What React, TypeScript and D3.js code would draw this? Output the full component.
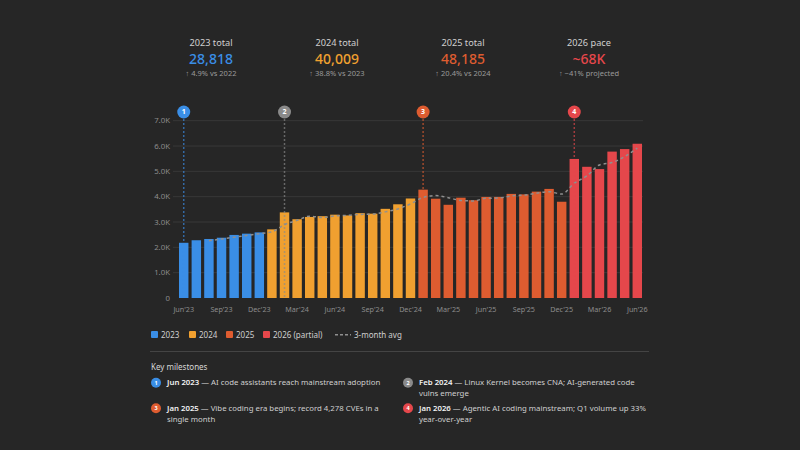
import React from "react";
import * as d3 from "d3";

// Monthly CVE counts, Jun 2023 – Jun 2026
const months = [
  "Jun'23", "Jul'23", "Aug'23", "Sep'23", "Oct'23", "Nov'23", "Dec'23",
  "Jan'24", "Feb'24", "Mar'24", "Apr'24", "May'24", "Jun'24", "Jul'24", "Aug'24", "Sep'24", "Oct'24", "Nov'24", "Dec'24",
  "Jan'25", "Feb'25", "Mar'25", "Apr'25", "May'25", "Jun'25", "Jul'25", "Aug'25", "Sep'25", "Oct'25", "Nov'25", "Dec'25",
  "Jan'26", "Feb'26", "Mar'26", "Apr'26", "May'26", "Jun'26",
];
const cves2023 = [2180, 2280, 2330, 2380, 2490, 2540, 2590];
const cves2024 = [2710, 3380, 3110, 3200, 3230, 3290, 3260, 3350, 3330, 3520, 3700, 3929];
const cves2025 = [4278, 3920, 3680, 3960, 3860, 3990, 3990, 4110, 4090, 4200, 4307, 3800];
const cves2026 = [5490, 5180, 5090, 5780, 5880, 6090];

const yearNames = ["2023", "2024", "2025", "2026 (partial)"];
const yearColors = ["#3a8ee6", "#f0a030", "#de5c30", "#e5474b"];
const yTicks = [0, 1000, 2000, 3000, 4000, 5000, 6000, 7000];

const summaryTitles = ["2023 total", "2024 total", "2025 total", "2026 pace"];
const summaryValues = ["28,818", "40,009", "48,185", "~68K"];
const summaryNotes = ["↑ 4.9% vs 2022", "↑ 38.8% vs 2023", "↑ 20.4% vs 2024", "↑ ~41% projected"];

const milestoneMonths = ["Jun'23", "Feb'24", "Jan'25", "Jan'26"];
const milestoneColors = ["#3a8ee6", "#8a8a8a", "#de5c30", "#e5474b"];
const milestoneDates = ["Jun 2023", "Feb 2024", "Jan 2025", "Jan 2026"];
const milestoneText = [
  [" — AI code assistants reach mainstream adoption"],
  [" — Linux Kernel becomes CNA; AI-generated code", "vulns emerge"],
  [" — Vibe coding era begins; record 4,278 CVEs in a", "single month"],
  [" — Agentic AI coding mainstream; Q1 volume up 33%", "year-over-year"],
];

const FONT = "'Noto Sans', 'Open Sans', sans-serif";

type Row = { month: string; value: number; year: number };

const rows: Row[] = [cves2023, cves2024, cves2025, cves2026].flatMap((vals, yi) =>
  vals.map((value) => ({ month: "", value, year: yi }))
);
rows.forEach((r, i) => (r.month = months[i]));

export default function App() {
  const plotLeft = 173;
  const plotRight = 643;

  const x = d3
    .scaleBand<string>()
    .domain(months)
    .range([179, 642])
    .paddingInner(0.25)
    .paddingOuter(0);
  const y = d3.scaleLinear().domain([0, 7000]).range([298, 120.7]);
  const cx = (m: string) => (x(m) ?? 0) + x.bandwidth() / 2;

  // trailing 3-month average
  const avg = rows
    .map((r, i) =>
      i < 2 ? null : { month: r.month, value: d3.mean(rows.slice(i - 2, i + 1), (d) => d.value) as number }
    )
    .filter((d): d is { month: string; value: number } => d !== null);

  const avgLine = d3
    .line<{ month: string; value: number }>()
    .x((d) => cx(d.month))
    .y((d) => y(d.value))
    .curve(d3.curveMonotoneX);

  const tickFmt = (v: number) => (v === 0 ? "0" : `${(v / 1000).toFixed(1)}K`);

  const legendX = [151, 189, 226, 263];

  return (
    <div style={{ position: "fixed", left: 0, top: 0, width: 800, height: 450, background: "#262626" }}>
      <svg width={800} height={450} style={{ display: "block", fontFamily: FONT }}>
        <rect width={800} height={450} fill="#262626" />

        {/* summary cards */}
        {summaryTitles.map((t, i) => {
          const mx = 211 + i * 126;
          return (
            <g key={t}>
              <text x={mx} y={46.3} textAnchor="middle" fontSize={9.2} fill="#cfcfcf">{t}</text>
              <text x={mx} y={64} textAnchor="middle" fontSize={14} fontWeight={500} fill={yearColors[i]}>
                {summaryValues[i]}
              </text>
              <text x={mx} y={75.6} textAnchor="middle" fontSize={7.5} fill="#9a9a9a">{summaryNotes[i]}</text>
            </g>
          );
        })}

        {/* grid + y axis */}
        {yTicks.map((t) => (
          <g key={t}>
            {t > 0 && <line x1={plotLeft} x2={plotRight} y1={y(t)} y2={y(t)} stroke="#383838" strokeWidth={1} />}
            <text x={170} y={y(t)} dy="0.35em" textAnchor="end" fontSize={7.8} fill="#8c8c8c">{tickFmt(t)}</text>
          </g>
        ))}

        {/* bars */}
        {rows.map((r) => (
          <rect
            key={r.month}
            x={x(r.month)}
            y={y(r.value)}
            width={x.bandwidth()}
            height={y(0) - y(r.value)}
            fill={yearColors[r.year]}
          />
        ))}

        {/* 3-month average */}
        <path d={avgLine(avg) ?? ""} fill="none" stroke="#8f8f8f" strokeWidth={1.5} strokeDasharray="3,3" />

        {/* milestone markers */}
        {milestoneMonths.map((m, i) => (
          <g key={m}>
            <line
              x1={cx(m)}
              x2={cx(m)}
              y1={119}
              y2={y(0)}
              stroke={milestoneColors[i]}
              strokeOpacity={0.65}
              strokeWidth={1.5}
              strokeDasharray="2,2"
            />
            <circle cx={cx(m)} cy={112} r={6.5} fill={milestoneColors[i]} />
            <text x={cx(m)} y={112} dy="0.35em" textAnchor="middle" fontSize={7} fontWeight={700} fill="#fff">
              {i + 1}
            </text>
          </g>
        ))}

        {/* x axis labels, quarterly */}
        {months
          .filter((_, i) => i % 3 === 0)
          .map((m) => (
            <text key={m} x={cx(m)} y={312} textAnchor="middle" fontSize={7.2} fill="#8c8c8c">{m}</text>
          ))}

        {/* legend */}
        {yearNames.map((n, i) => (
          <g key={n}>
            <rect x={legendX[i]} y={331} width={7} height={7} rx={1} fill={yearColors[i]} />
            <text x={legendX[i] + 10} y={334.7} dy="0.35em" fontSize={8} fill="#cfcfcf">{n}</text>
          </g>
        ))}
        <line x1={335} x2={351} y1={334.7} y2={334.7} stroke="#8f8f8f" strokeWidth={1.5} strokeDasharray="3,2" />
        <text x={354} y={334.7} dy="0.35em" fontSize={8} fill="#cfcfcf">3-month avg</text>

        <line x1={150} x2={649} y1={351.5} y2={351.5} stroke="#444" strokeWidth={1} />

        {/* milestones list */}
        <text x={151} y={367} dy="0.35em" fontSize={8} fill="#d6d6d6">Key milestones</text>
        {milestoneDates.map((d, i) => {
          const colX = i % 2 === 0 ? 156 : 408;
          const rowY = i < 2 ? 382.7 : 408.3;
          return (
            <g key={d}>
              <circle cx={colX} cy={rowY} r={5} fill={milestoneColors[i]} />
              <text x={colX} y={rowY} dy="0.35em" textAnchor="middle" fontSize={5.5} fontWeight={700} fill="#fff">
                {i + 1}
              </text>
              {milestoneText[i].map((line, li) => (
                <text key={li} x={colX + 11} y={rowY + li * 11} dy="0.35em" fontSize={7.8} fill="#cfcfcf">
                  {li === 0 && (
                    <tspan fontWeight={600} fill="#f2f2f2">{d}</tspan>
                  )}
                  {line}
                </text>
              ))}
            </g>
          );
        })}
      </svg>
    </div>
  );
}
